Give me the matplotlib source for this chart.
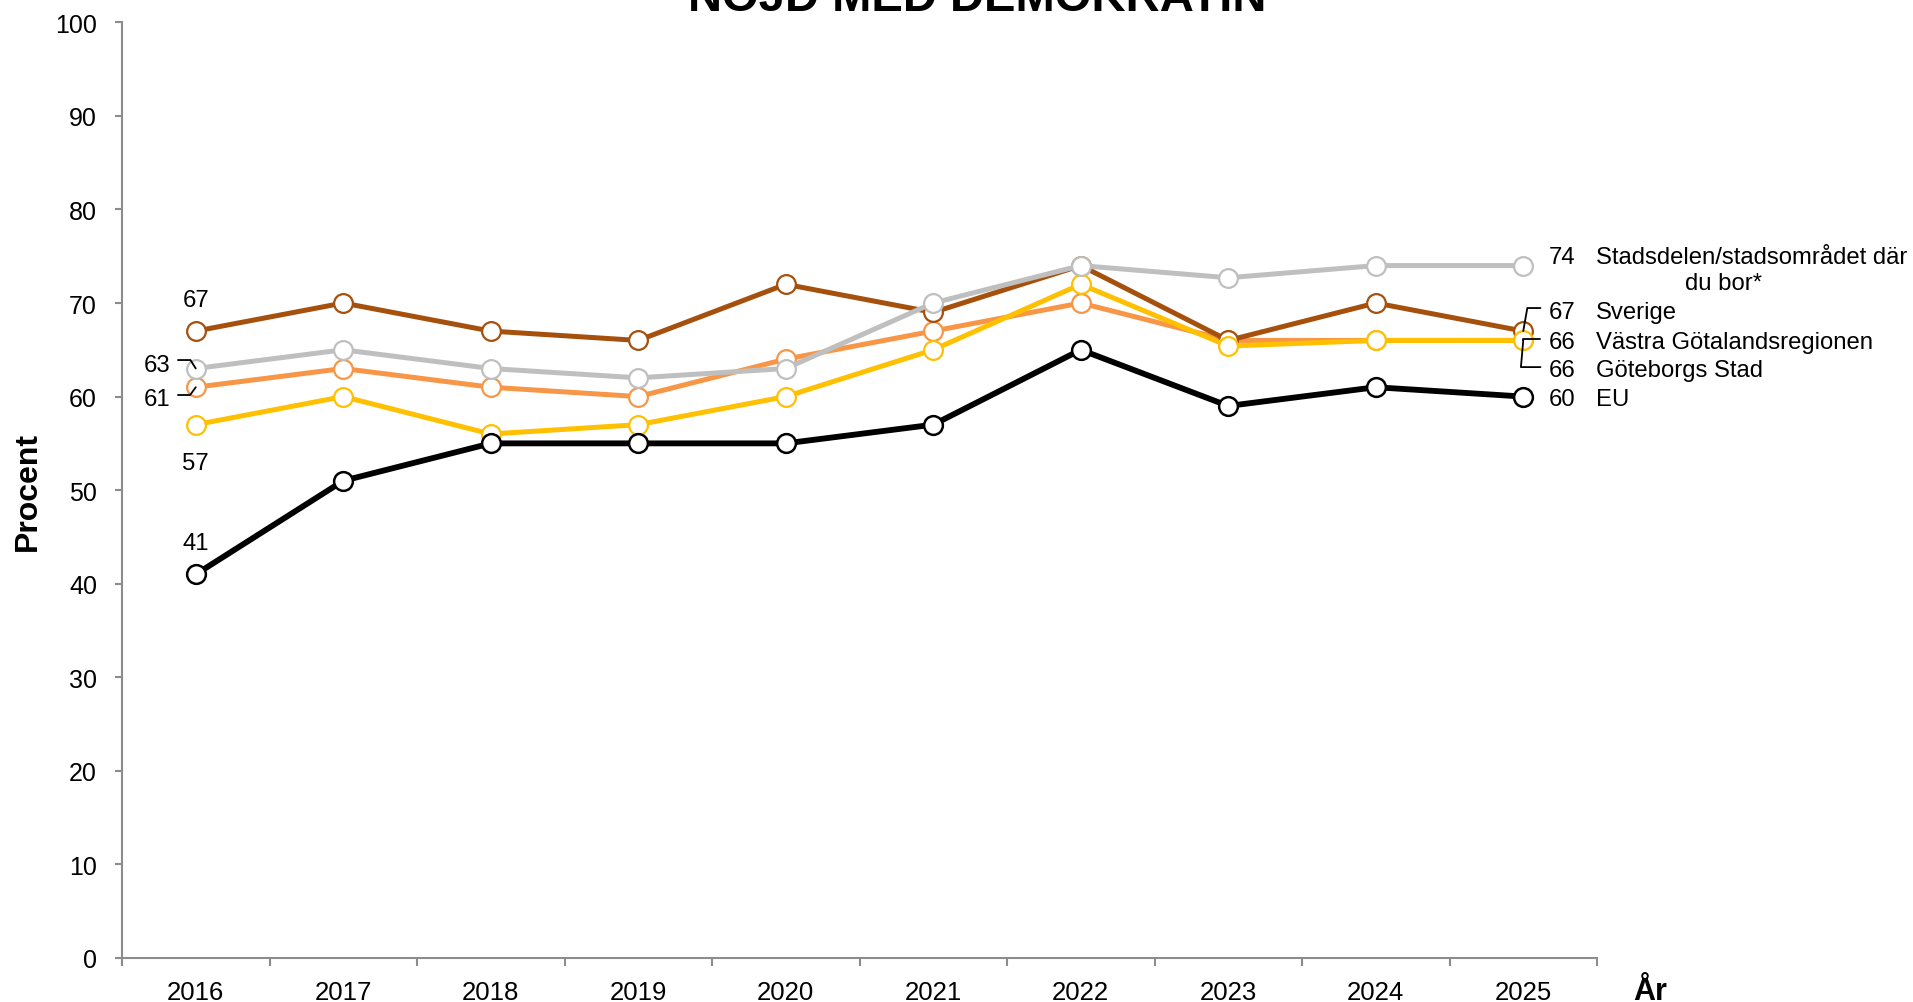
import matplotlib
matplotlib.use("Agg")
import matplotlib.pyplot as plt

plt.rcParams['font.family'] = ['Liberation Sans', 'DejaVu Sans']

years = ["2016", "2017", "2018", "2019", "2020", "2021", "2022", "2023", "2024", "2025"]

sverige = [67, 70, 67, 66, 72, 69, 74, 66, 70, 67]
vgr = [61, 63, 61, 60, 64, 67, 70, 66, 66, 66]
goteborg = [57, 60, 56, 57, 60, 65, 72, 65.4, 66, 66]
stadsdel = [63, 65, 63, 62, 63, 70, 74, 72.7, 74, 74]
eu = [41, 51, 55, 55, 55, 57, 65, 59, 61, 60]

names = ["Sverige", "Västra Götalandsregionen", "Göteborgs Stad",
         "Stadsdelen/stadsområdet där", "EU"]
name_extra = "du bor*"
yticks = [0, 10, 20, 30, 40, 50, 60, 70, 80, 90, 100]

W, H = 1913, 1003
fig = plt.figure(figsize=(W / 100, H / 100), dpi=100)
ax = fig.add_axes([122 / W, 1 - 959 / H, (1597 - 122) / W, (959 - 23.3) / H])

x = list(range(len(years)))
series = [
    (vgr, "#F79646", 3.6, 1.6, 2),
    (sverige, "#A5500C", 3.6, 1.6, 3),
    (goteborg, "#FFC000", 3.6, 1.6, 4),
    (stadsdel, "#BFBFBF", 3.6, 1.6, 5),
    (eu, "#000000", 4.2, 1.8, 6),
]
for vals, col, lw, mew, z in series:
    ax.plot(x, vals, color=col, lw=lw, marker='o', ms=13.5, mfc='white',
            mec=col, mew=mew, zorder=z, solid_joinstyle='round')

ax.set_xlim(-0.5, len(years) - 0.5)
ax.set_ylim(0, 100)
ax.set_yticks(yticks)
ax.set_xticks(x)
ax.set_xticklabels(years)
ax.set_xticks([i - 0.5 for i in range(len(years) + 1)], minor=True)

spine_col = '#8C8C8C'
for s in ['top', 'right']:
    ax.spines[s].set_visible(False)
for s in ['left', 'bottom']:
    ax.spines[s].set_color(spine_col)
    ax.spines[s].set_linewidth(1.5)
ax.tick_params(axis='x', which='major', length=0, pad=16, labelsize=18.5)
ax.tick_params(axis='x', which='minor', length=5.8, width=1.5, color=spine_col)
ax.tick_params(axis='y', which='major', length=5, width=1.5, color=spine_col,
               pad=13, labelsize=18)

fs = 17.2
sh = -2.0
def lab(text, xi, v, dx, dy, ha='center', va='center'):
    ax.annotate(text, xy=(xi, v), xytext=(dx, dy + sh), textcoords='offset points',
                ha=ha, va=va, fontsize=fs, zorder=10)

def leader(xi, v, dx, dy, angB):
    ax.annotate('', xy=(xi, v), xytext=(dx, dy), textcoords='offset points',
                arrowprops=dict(arrowstyle='-', lw=1.3, color='black',
                                shrinkA=0, shrinkB=0,
                                connectionstyle=f'angle,angleA=0,angleB={angB},rad=0'),
                zorder=10)

# left labels (2016)
lab(f"{sverige[0]:.0f}", 0, sverige[0], 0, 24.5)
lab(f"{stadsdel[0]:.0f}", 0, stadsdel[0], -18.5, 4.7, ha='right')
leader(0, stadsdel[0], -12.8, 6.1, 122)
lab(f"{vgr[0]:.0f}", 0, vgr[0], -18.5, -6.3, ha='right')
leader(0, vgr[0], -12.8, -5.6, 54)
lab(f"{goteborg[0]:.0f}", 0, goteborg[0], 0, -25.4)
lab(f"{eu[0]:.0f}", 0, eu[0], 0, 24.8)

# right labels (2025)
last = len(years) - 1
ndx, tdx = 18.2, 52.5
ends = [
    (stadsdel, names[3], 8.5),
    (sverige, names[0], 15.9),
    (vgr, names[1], 1.0),
    (goteborg, names[2], -19.2),
    (eu, names[4], 0),
]
for vals, nm, dy in ends:
    lab(f"{vals[last]:.0f}", last, vals[last], ndx, dy, ha='left')
    lab(nm, last, vals[last], tdx, dy, ha='left')
lab(name_extra, last, stadsdel[last], 144, -10.8)
leader(last, sverige[last], 12.4, 16.6, 80)
leader(last, vgr[last], 12.4, 1.0, 90)
leader(last, goteborg[last], 12.4, -19.2, 85)

fig.text(977 / W, 1 - 11 / H, "NÖJD MED DEMOKRATIN", ha='center', va='baseline',
         fontsize=34, fontweight='bold')
fig.text(28 / W, 0.5 * ((1 - 959 / H) + (1 - 23.3 / H)), "Procent", rotation=90,
         ha='center', va='center', fontsize=23, fontweight='bold')
fig.text(1633 / W, 3 / H, "År", ha='left', va='baseline', fontsize=22,
         fontweight='bold')

fig.savefig("out.png", dpi=100)
